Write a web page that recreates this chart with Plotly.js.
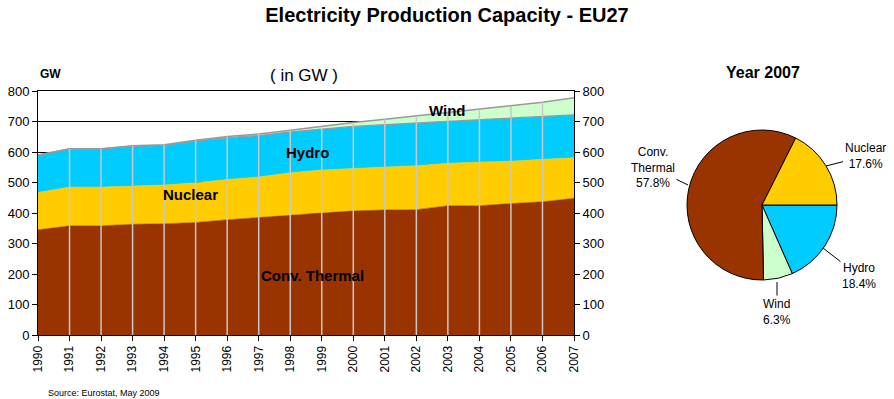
<!DOCTYPE html>
<html>
<head>
<meta charset="utf-8">
<script src="https://cdn.plot.ly/plotly-3.0.1.min.js"></script>
<style>html,body{margin:0;padding:0;background:#fff;}#chart{width:894px;height:399px;}</style>
</head>
<body>
<div id="chart"></div>
<script>
// ---- data ----
const years = [1990,1991,1992,1993,1994,1995,1996,1997,1998,1999,2000,2001,2002,2003,2004,2005,2006,2007];
const thermal = [345,358,358,363,365,369,378,385,392,400,407,410,411,424,424,431,437,448];
const nuclear = [122,127,127,126,127,130,132,133,140,141,140,141,144,139,143,139,139,133];
const hydro   = [123,125,125,130,130,137,137,136,134,134,137,139,140,138,138,140,139,141];
const wind    = [0.5,0.7,1,1.5,2,2.5,3.5,4.8,5,9.7,12.9,17,23,28.5,34.5,40.5,48,56];
const yTicks = [0,100,200,300,400,500,600,700,800];
// pie (year 2007), clockwise from 3 o'clock
const pieLabels = ['Hydro','Wind','Conv.<br>Thermal','Nuclear'];
const pieShares = [18.4,6.3,57.8,17.6];
const pieColors = ['#00CCFF','#CCFFCC','#993300','#FFCC00'];

// ---- helpers ----
const W = 894, H = 399;
const px = x => x / W;
const py = y => 1 - y / H;
const FONT = '"Liberation Sans", Arial, sans-serif';

const totals = years.map((_, i) => thermal[i] + nuclear[i] + hydro[i] + wind[i]);

function areaTrace(name, vals, fill, lineColor, lineWidth) {
  return {
    type: 'scatter', mode: 'lines', name: name, x: years, y: vals,
    stackgroup: 'one', fillcolor: fill,
    line: {color: lineColor, width: lineWidth, shape: 'linear'},
    hoverinfo: 'skip', xaxis: 'x', yaxis: 'y'
  };
}

const traces = [
  areaTrace('Conv. Thermal', thermal, '#993300', '#993300', 0.5),
  areaTrace('Nuclear', nuclear, '#FFCC00', '#FFCC00', 0.5),
  areaTrace('Hydro', hydro, '#00CCFF', '#999999', 1.2),
  areaTrace('Wind', wind, '#CCFFCC', '#999999', 1.5),
  { // invisible helper so the right axis is drawn
    type: 'scatter', mode: 'lines', x: years, y: totals, opacity: 0,
    hoverinfo: 'skip', showlegend: false, xaxis: 'x', yaxis: 'y2', line: {width: 0}
  },
  {
    type: 'pie', labels: pieLabels, values: pieShares, sort: false,
    direction: 'clockwise', rotation: 90,
    marker: {colors: pieColors, line: {color: '#000', width: 1}},
    textinfo: 'none', hoverinfo: 'skip', showlegend: false,
    domain: {x: [px(687), px(837)], y: [py(280), py(130)]}
  }
];

// vertical year lines drawn over the areas (up to the stack top)
const shapes = years.slice(1, -1).map((yr, j) => ({
  type: 'line', xref: 'x', yref: 'y', x0: yr, x1: yr, y0: 0, y1: totals[j + 1],
  line: {color: '#c8c8c8', width: 1.5}, layer: 'above'
}));

const annotations = [
  {text: '( in GW )', x: px(304), y: py(75), font: {size: 17}},
  {text: '<b>GW</b>', x: px(50), y: py(74), font: {size: 12}},
  {text: '<b>Wind</b>', x: px(447), y: py(110), font: {size: 15}},
  {text: '<b>Hydro</b>', x: px(307), y: py(152), font: {size: 15}},
  {text: '<b>Nuclear</b>', x: px(190), y: py(194), font: {size: 15}},
  {text: '<b>Conv. Thermal</b>', x: px(312), y: py(275), font: {size: 15}},
  {text: '<b>Year 2007</b>', x: px(763), y: py(73), font: {size: 16}},
  {text: 'Source: Eurostat, May 2009', x: px(46), y: py(393), xanchor: 'left', font: {size: 9}}
].map(a => Object.assign({xref: 'paper', yref: 'paper', showarrow: false, xanchor: 'center', yanchor: 'middle'}, a,
  {font: Object.assign({family: FONT, color: '#000'}, a.font)}));

// pie labels with leader lines
const pieLabelPos = [
  {tip: [823, 248], ax: 36, ay: 28},    // Hydro
  {tip: [777, 282], ax: 0, ay: 30},     // Wind
  {tip: [688, 185], ax: -35, ay: -17},  // Conv. Thermal
  {tip: [826, 166], ax: 39, ay: -10}    // Nuclear
];
pieLabels.forEach((lab, i) => {
  const p = pieLabelPos[i];
  annotations.push({
    xref: 'paper', yref: 'paper', x: px(p.tip[0]), y: py(p.tip[1]),
    ax: p.ax, ay: p.ay, showarrow: true, arrowhead: 0, arrowwidth: 1, arrowcolor: '#000',
    text: lab + '<br>' + pieShares[i].toFixed(1) + '%',
    font: {family: FONT, size: 12, color: '#000'}, align: 'center', standoff: 0, startstandoff: 0
  });
});

const axisCommon = {
  showline: true, linecolor: '#000', linewidth: 1, ticks: 'outside', ticklen: 5,
  tickcolor: '#000', tickfont: {family: FONT, size: 13, color: '#000'}, zeroline: false
};

const layout = {
  width: W, height: H, margin: {l: 0, r: 0, t: 0, b: 0},
  paper_bgcolor: '#fff', plot_bgcolor: '#fff', showlegend: false,
  font: {family: FONT, color: '#000'},
  title: {text: '<b>Electricity Production Capacity - EU27</b>', x: 0.5, xanchor: 'center',
          y: py(15), yanchor: 'middle', font: {family: FONT, size: 20, color: '#000'}},
  xaxis: Object.assign({}, axisCommon, {
    domain: [px(38), px(574)], range: [1990, 2007], tickmode: 'array', tickvals: years,
    ticktext: years.map(String), tickangle: -90, showgrid: false, mirror: true,
    tickfont: {family: FONT, size: 12, color: '#000'}, anchor: 'y'
  }),
  yaxis: Object.assign({}, axisCommon, {
    domain: [py(335), py(91)], range: [0, 800], tickmode: 'array', tickvals: yTicks,
    showgrid: true, gridcolor: '#000', gridwidth: 1, anchor: 'x'
  }),
  yaxis2: Object.assign({}, axisCommon, {
    domain: [py(335), py(91)], range: [0, 800], tickmode: 'array', tickvals: yTicks,
    overlaying: 'y', side: 'right', showgrid: false, anchor: 'x'
  }),
  shapes: shapes,
  annotations: annotations
};

Plotly.newPlot('chart', traces, layout, {staticPlot: true, displayModeBar: false});
</script>
</body>
</html>
